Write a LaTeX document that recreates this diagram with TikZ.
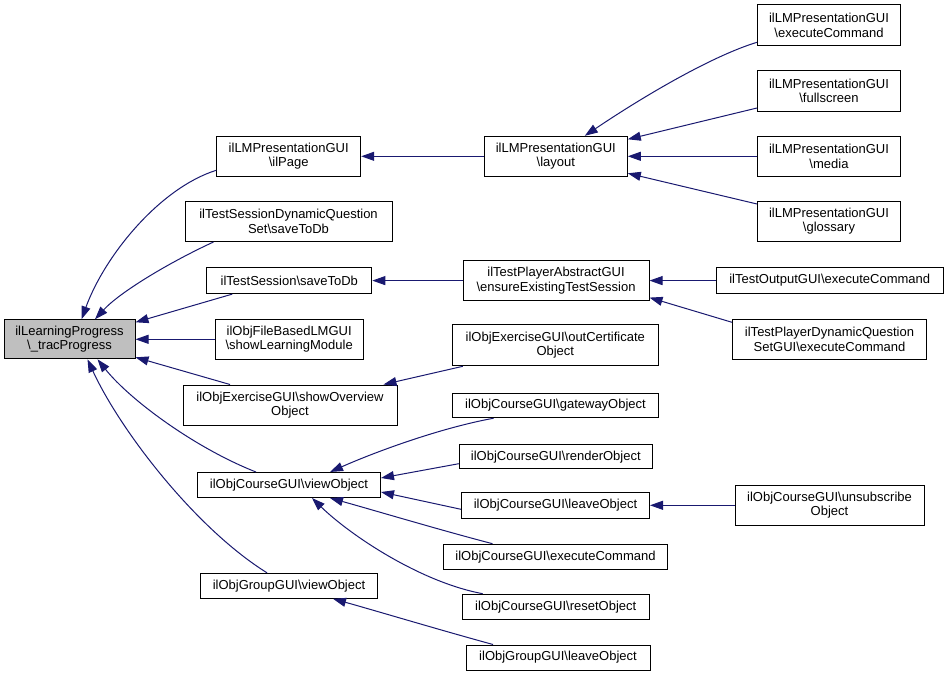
\documentclass[tikz,border=0pt]{standalone}
\usepackage{fontspec}
\setmainfont{Liberation Sans}
\usetikzlibrary{arrows.meta,calc}
\definecolor{edgeblue}{HTML}{191970}
\definecolor{rootgray}{HTML}{BFBFBF}
\begin{document}
\begin{tikzpicture}[x=1pt,y=-1pt,
  box/.style={draw=black,line width=1pt,fill=white,inner sep=0pt,align=center,
    font=\fontsize{13}{14.3}\selectfont},
  calls/.style={draw=edgeblue,line width=1pt,-{Triangle[length=13pt,width=9pt]}}]
\path[fill=white] (0,0) rectangle (948,677);
\useasboundingbox (0,0) rectangle (948,677);
% column 1
\node[box,fill=rootgray,minimum width=131pt,minimum height=39pt] (root) at (69.5,339.3) {ilLearningProgress\\\textbackslash\_tracProgress};
% column 2
\node[box,minimum width=144pt,minimum height=40pt] (ilpage) at (288.7,156.3) {ilLMPresentationGUI\\\textbackslash ilPage};
\node[box,minimum width=207pt,minimum height=40pt] (tsdq) at (288.5,221.5) {ilTestSessionDynamicQuestion\\Set\textbackslash saveToDb};
\node[box,minimum width=165pt,minimum height=26pt] (tssave) at (289.3,280.6) {ilTestSession\textbackslash saveToDb};
\node[box,minimum width=148pt,minimum height=40pt] (fblm) at (289.2,339.3) {ilObjFileBasedLMGUI\\\textbackslash showLearningModule};
\node[box,minimum width=214pt,minimum height=40pt] (exov) at (290,405) {ilObjExerciseGUI\textbackslash showOverview\\Object};
\node[box,minimum width=183pt,minimum height=25pt] (cview) at (289,485) {ilObjCourseGUI\textbackslash viewObject};
\node[box,minimum width=177pt,minimum height=25pt] (gview) at (289,585.8) {ilObjGroupGUI\textbackslash viewObject};
% column 3
\node[box,minimum width=143pt,minimum height=40pt] (layout) at (555.8,156.3) {ilLMPresentationGUI\\\textbackslash layout};
\node[box,minimum width=186pt,minimum height=40pt] (ensure) at (556,280.6) {ilTestPlayerAbstractGUI\\\textbackslash ensureExistingTestSession};
\node[box,minimum width=206pt,minimum height=41pt] (outcert) at (555.3,345.3) {ilObjExerciseGUI\textbackslash outCertificate\\Object};
\node[box,minimum width=206pt,minimum height=24.5pt] (gateway) at (555.5,405.5) {ilObjCourseGUI\textbackslash gatewayObject};
\node[box,minimum width=193pt,minimum height=23.5pt] (render) at (555.8,456.7) {ilObjCourseGUI\textbackslash renderObject};
\node[box,minimum width=188pt,minimum height=26pt] (leave) at (555.5,505.3) {ilObjCourseGUI\textbackslash leaveObject};
\node[box,minimum width=224pt,minimum height=25pt] (cexec) at (555.5,556.7) {ilObjCourseGUI\textbackslash executeCommand};
\node[box,minimum width=187pt,minimum height=25pt] (reset) at (555.7,606.7) {ilObjCourseGUI\textbackslash resetObject};
\node[box,minimum width=184pt,minimum height=25pt] (gleave) at (558,657.5) {ilObjGroupGUI\textbackslash leaveObject};
% column 4
\node[box,minimum width=143pt,minimum height=41pt] (lmexec) at (829,25.3) {ilLMPresentationGUI\\\textbackslash executeCommand};
\node[box,minimum width=143pt,minimum height=40pt] (fullscr) at (829,91) {ilLMPresentationGUI\\\textbackslash fullscreen};
\node[box,minimum width=143pt,minimum height=40pt] (media) at (829,156.3) {ilLMPresentationGUI\\\textbackslash media};
\node[box,minimum width=143pt,minimum height=40pt] (gloss) at (829,221) {ilLMPresentationGUI\\\textbackslash glossary};
\node[box,minimum width=227pt,minimum height=26pt] (toexec) at (829.7,280.6) {ilTestOutputGUI\textbackslash executeCommand};
\node[box,minimum width=194pt,minimum height=40pt] (tpdq) at (829.5,339.3) {ilTestPlayerDynamicQuestion\\SetGUI\textbackslash executeCommand};
\node[box,minimum width=189pt,minimum height=40pt] (unsub) at (829.5,505.3) {ilObjCourseGUI\textbackslash unsubscribe\\Object};
% edges into root
\draw[calls] ($(ilpage.west)+(0,14)$) .. controls (160,188) and (105,255) .. ($(root.north)+(12,0)$);
\draw[calls] ($(tsdq.south)+(-75,0)$) .. controls (170,262) and (120,292) .. ($(root.north)+(25.5,0)$);
\draw[calls] ($(tssave.south)+(-57,0)$) -- ($(root.north east)+(0,3)$);
\draw[calls] (fblm.west) -- (root.east);
\draw[calls] ($(exov.north)+(-60,0)$) -- ($(root.south east)+(0,-2)$);
\draw[calls] ($(cview.north)+(-33,0)$) .. controls (195,448) and (130,400) .. ($(root.south)+(28,0)$);
\draw[calls] ($(gview.north)+(-22,0)$) .. controls (195,528) and (120,430) .. ($(root.south)+(18,0)$);
% edges into column 2
\draw[calls] (layout.west) -- (ilpage.east);
\draw[calls] (ensure.west) -- (tssave.east);
\draw[calls] ($(outcert.south west)+(11,0)$) -- ($(exov.north east)+(-14,0)$);
\draw[calls] ($(gateway.south)+(-62,0)$) .. controls (440,428) and (375,452) .. ($(cview.north)+(41,0)$);
\draw[calls] ($(render.west)+(0,7)$) -- ($(cview.east)+(0,-7)$);
\draw[calls] ($(leave.west)+(0,4)$) -- ($(cview.east)+(0,7)$);
\draw[calls] ($(cexec.north)+(-63,0)$) .. controls (440,530) and (380,512) .. ($(cview.south)+(41,0)$);
\draw[calls] ($(reset.north)+(-73,0)$) .. controls (420,582) and (350,535) .. ($(cview.south)+(23,0)$);
\draw[calls] ($(gleave.north)+(-65,0)$) .. controls (440,630) and (380,612) .. ($(gview.south)+(44,0)$);
% edges into column 3
\draw[calls] ($(lmexec.west)+(0,17)$) .. controls (715,55) and (650,92) .. ($(layout.north)+(29,0)$);
\draw[calls] ($(fullscr.west)+(0,17)$) -- ($(layout.east)+(0,-17)$);
\draw[calls] (media.west) -- (layout.east);
\draw[calls] ($(gloss.west)+(0,-17)$) -- ($(layout.east)+(0,17)$);
\draw[calls] (toexec.west) -- (ensure.east);
\draw[calls] ($(tpdq.west)+(0,-17)$) -- ($(ensure.east)+(0,17)$);
\draw[calls] (unsub.west) -- (leave.east);
\end{tikzpicture}
\end{document}
